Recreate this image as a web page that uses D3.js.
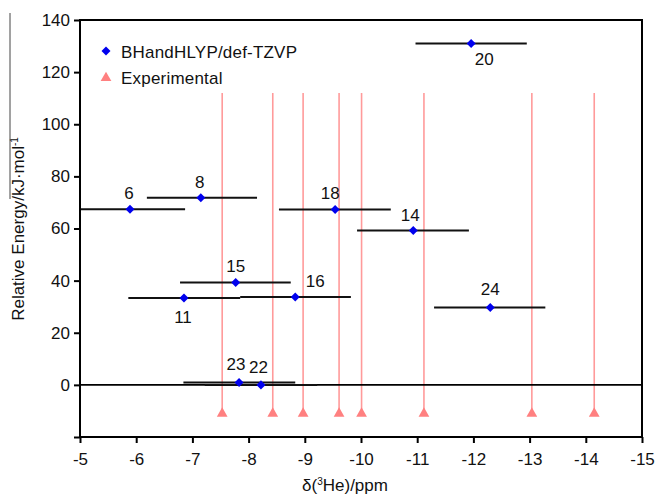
<!DOCTYPE html>
<html>
<head>
<meta charset="utf-8">
<script src="https://cdn.jsdelivr.net/npm/d3@7"></script>
<style>
  html, body { margin: 0; padding: 0; background: #fff; }
  svg { display: block; font-family: "Liberation Sans", Arial, sans-serif; }
</style>
</head>
<body>
<svg id="chart" width="657" height="497"></svg>
<script>
// ---- Data ----
const calcLabels = ["6", "8", "18", "20", "14", "15", "11", "16", "24", "23", "22"];
const calcShift  = [-5.89, -7.15, -9.54, -11.96, -10.93, -7.77, -6.85, -8.83, -12.30, -7.83, -8.22];
const calcEnergy = [67.4, 71.8, 67.3, 131.0, 59.2, 39.3, 33.3, 33.7, 29.7, 0.9, 0.0];
const errFrom    = [-4.90, -6.19, -8.54, -10.97, -9.93, -6.78, -5.86, -7.85, -11.30, -6.84, -7.22];
const errTo      = [-6.87, -8.15, -10.53, -12.95, -11.92, -8.75, -7.85, -9.82, -13.28, -8.83, -9.22];

const expShift  = [-7.53, -8.43, -8.97, -9.61, -10.01, -11.12, -13.04, -14.15];
const expEnergy = [-11, -11, -11, -11, -11, -11, -11, -11];
const expLineTop = 112;

const xTicks = [-5, -6, -7, -8, -9, -10, -11, -12, -13, -14, -15];
const xTickLabels = ["-5", "-6", "-7", "-8", "-9", "-10", "-11", "-12", "-13", "-14", "-15"];
const yTicks = [-20, 0, 20, 40, 60, 80, 100, 120, 140];
const yTickLabels = ["", "0", "20", "40", "60", "80", "100", "120", "140"];

const seriesNames = ["BHandHLYP/def-TZVP", "Experimental"];

// label placement (dx, dy relative to marker)
const labelOffset = {
  "6": [-1, -10.5], "8": [-1, -9.5], "18": [-5, -10], "20": [13, 22],
  "14": [-3, -10], "15": [0, -10.5], "11": [-1, 25], "16": [20, -10],
  "24": [0, -12], "23": [-3, -12.5], "22": [-2.5, -11.5]
};

// ---- Layout ----
const svg = d3.select("#chart");
const L = 80, R = 642, T = 20, B = 437;
const x = d3.scaleLinear().domain([-5, -15]).range([L, R]);
const y = d3.scaleLinear().domain([-20, 140]).range([B, T]);
const FS = 17;

svg.append("defs").append("clipPath").attr("id", "clip")
  .append("rect").attr("x", L).attr("y", T).attr("width", R - L).attr("height", B - T);

const plot = svg.append("g").attr("clip-path", "url(#clip)");

// experimental drop lines
plot.selectAll("line.exp").data(expShift).join("line")
  .attr("class", "exp")
  .attr("x1", d => x(d)).attr("x2", d => x(d))
  .attr("y1", y(expLineTop)).attr("y2", (d, i) => y(expEnergy[i]))
  .attr("stroke", "#ff9a9a").attr("stroke-width", 1.6);

// zero line
plot.append("line")
  .attr("x1", L).attr("x2", R).attr("y1", y(0)).attr("y2", y(0))
  .attr("stroke", "#000").attr("stroke-width", 1.6);

// error bars
plot.selectAll("line.err").data(calcShift).join("line")
  .attr("class", "err")
  .attr("x1", (d, i) => x(errFrom[i])).attr("x2", (d, i) => x(errTo[i]))
  .attr("y1", (d, i) => y(calcEnergy[i])).attr("y2", (d, i) => y(calcEnergy[i]))
  .attr("stroke", "#111").attr("stroke-width", 2);

// experimental triangles
const tri = d3.symbol().type(d3.symbolTriangle).size(50);
plot.selectAll("path.tri").data(expShift).join("path")
  .attr("class", "tri")
  .attr("d", tri)
  .attr("transform", (d, i) => `translate(${x(d)},${y(expEnergy[i])})`)
  .attr("fill", "#ff8080");

// diamonds
const diamond = d3.symbol().type(d3.symbolDiamond2).size(52);
plot.selectAll("path.dia").data(calcShift).join("path")
  .attr("class", "dia")
  .attr("d", diamond)
  .attr("transform", (d, i) => `translate(${x(d)},${y(calcEnergy[i])})`)
  .attr("fill", "#0000ee");

// point labels
svg.selectAll("text.lbl").data(calcLabels).join("text")
  .attr("class", "lbl")
  .attr("x", (d, i) => x(calcShift[i]) + labelOffset[d][0])
  .attr("y", (d, i) => y(calcEnergy[i]) + labelOffset[d][1])
  .attr("text-anchor", "middle")
  .attr("font-size", FS).attr("fill", "#111")
  .text(d => d);

// axes
const xAxis = d3.axisBottom(x).tickValues(xTicks).tickFormat((d, i) => xTickLabels[i]).tickSize(6).tickPadding(10);
const gx = svg.append("g").attr("transform", `translate(0,${B})`).call(xAxis);
const yAxis = d3.axisLeft(y).tickValues(yTicks).tickFormat((d, i) => yTickLabels[i]).tickSize(6).tickPadding(4);
const gy = svg.append("g").attr("transform", `translate(${L},0)`).call(yAxis);
[gx, gy].forEach(g => {
  g.select(".domain").remove();
  g.selectAll(".tick line").attr("stroke", "#000").attr("stroke-width", 2);
  g.selectAll("text").attr("font-size", FS).attr("fill", "#111")
    .attr("font-family", "'Liberation Sans', Arial, sans-serif");
});

// frame
svg.append("rect").attr("x", L).attr("y", T).attr("width", R - L).attr("height", B - T)
  .attr("fill", "none").attr("stroke", "#000").attr("stroke-width", 2);

// axis titles
const xt = svg.append("text").attr("x", 345).attr("y", 491).attr("text-anchor", "middle")
  .attr("font-size", FS).attr("fill", "#111");
xt.append("tspan").text("δ(");
xt.append("tspan").attr("font-size", 10).attr("dy", -6).text("3");
xt.append("tspan").attr("dy", 6).text("He)/ppm");

const yt = svg.append("text").attr("transform", "translate(24,229) rotate(-90)")
  .attr("text-anchor", "middle").attr("font-size", FS).attr("fill", "#111");
yt.append("tspan").text("Relative Energy/kJ·mol");
yt.append("tspan").attr("font-size", 10).attr("dy", -6).text("-1");

// stray rule to the left of the y title
svg.append("line").attr("x1", 10).attr("x2", 10).attr("y1", 13).attr("y2", 199)
  .attr("stroke", "#444").attr("stroke-width", 1);

// legend
const lg = svg.append("g");
lg.append("path").attr("d", diamond).attr("transform", `translate(106,51)`).attr("fill", "#0000ee");
lg.append("path").attr("d", tri).attr("transform", `translate(106,78)`).attr("fill", "#ff8080");
lg.selectAll("text").data(seriesNames).join("text")
  .attr("x", 121).attr("y", (d, i) => 58 + i * 26)
  .attr("font-size", FS).attr("fill", "#111").attr("letter-spacing", 0.2).text(d => d);
</script>
</body>
</html>
